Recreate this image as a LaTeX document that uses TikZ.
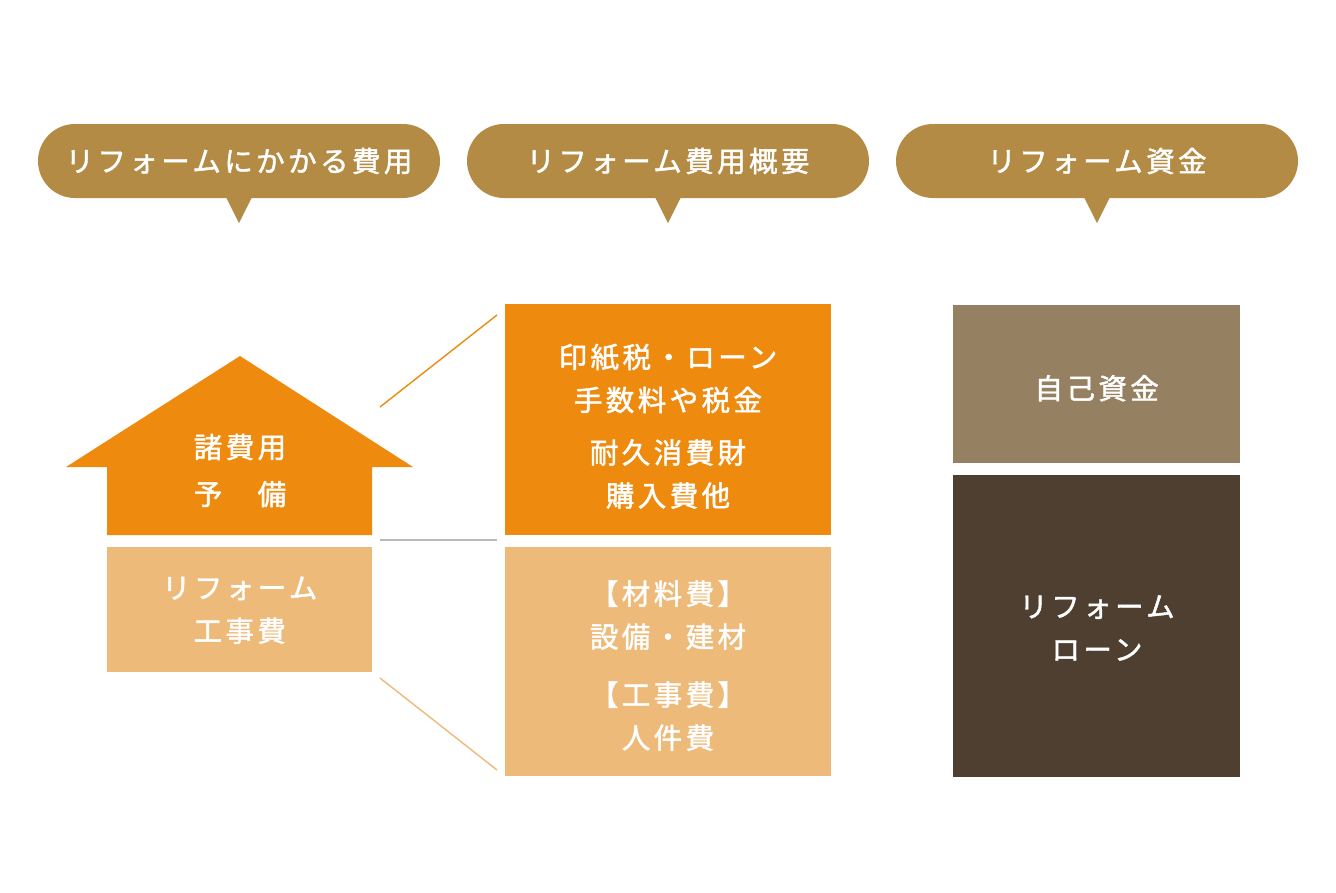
\documentclass[tikz,border=0pt]{standalone}
\usepackage{fontspec}
\newfontfamily\jp[LetterSpace=12,FakeBold=1.6]{Noto Sans CJK JP}
\usetikzlibrary{shapes.misc}
\definecolor{hdr}{HTML}{B38B45}
\definecolor{org}{HTML}{EE8A0D}
\definecolor{lorg}{HTML}{EEBA79}
\definecolor{tanb}{HTML}{958062}
\definecolor{dbr}{HTML}{4E3F30}
\definecolor{lineg}{HTML}{B8B8B8}
\tikzset{
  hdrbox/.style={rounded rectangle, fill=hdr, minimum width=402pt, minimum height=74pt, inner sep=0pt, text=white, font=\jp\fontsize{28.5}{30}\selectfont},
  box/.style={rectangle, inner sep=0pt, anchor=north west},
  lbl/.style={text=white, align=center, inner sep=0pt, font=\jp\fontsize{28.5}{43}\selectfont},
  conn/.style={line width=1.4pt},
}
\begin{document}
\begin{tikzpicture}[x=1pt,y=-1pt]
\fill[white] (0,0) rectangle (1336,892);
% headers
\node[hdrbox] (h1) at (239,161) {リフォームにかかる費用};
\node[hdrbox] (h2) at (668,161) {リフォーム費用概要};
\node[hdrbox] (h3) at (1097,161) {リフォーム資金};
\foreach \h in {h1,h2,h3}{
  \fill[hdr] ([xshift=-13pt,yshift=1pt]\h.south) -- ([yshift=-25pt]\h.south) -- ([xshift=13pt,yshift=1pt]\h.south) -- cycle;
}
% house
\fill[org] (240,356) -- (413,467) -- (372,467) -- (372,535) -- (107,535) -- (107,467) -- (66,467) -- cycle;
\node[box, fill=lorg, minimum width=265pt, minimum height=125pt] (wk) at (107,547) {};
\node[lbl, font=\jp\fontsize{28.5}{47}\selectfont] (t1) at (240,470.5) {諸費用\\予　備};
\node[lbl] (t2) at (wk.center) [yshift=-0.5pt] {リフォーム\\工事費};
% middle boxes
\node[box, fill=org, minimum width=326pt, minimum height=231pt] (m1) at (505,304) {};
\node[box, fill=lorg, minimum width=326pt, minimum height=229pt] (m2) at (505,547) {};
\node[lbl] (t3) at (668,378.5) {印紙税・ローン\\手数料や税金};
\node[lbl] (t4) at (668,474) {耐久消費財\\購入費他};
\node[lbl] (t5) at (668,615) {【材料費】\\設備・建材};
\node[lbl] (t6) at (668,716) {【工事費】\\人件費};
% right boxes
\node[box, fill=tanb, minimum width=287pt, minimum height=158pt] (r1) at (953,305) {};
\node[box, fill=dbr, minimum width=287pt, minimum height=302pt] (r2) at (953,475) {};
\node[lbl] (t7) at (r1.center) [yshift=-4pt] {自己資金};
\node[lbl] (t8) at (1097,628) {リフォーム\\ローン};
% connectors
\coordinate (a1) at (380,407);
\coordinate (b1) at (497,315);
\coordinate (a2) at (380,540);
\coordinate (b2) at (497,540);
\coordinate (a3) at (380,678);
\coordinate (b3) at (497,770);
\draw[conn, draw=org] (a1) -- (b1);
\draw[conn, draw=lineg] (a2) -- (b2);
\draw[conn, draw=lorg] (a3) -- (b3);
\end{tikzpicture}
\end{document}
